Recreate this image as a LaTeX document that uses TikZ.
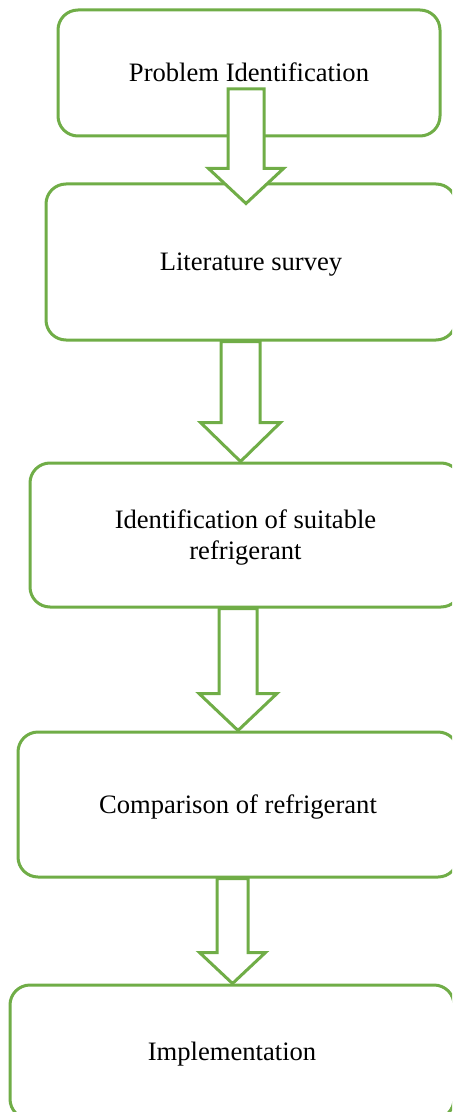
\documentclass[tikz,border=0pt]{standalone}
\usepackage{fontspec}
\setmainfont{Liberation Serif}
\usetikzlibrary{calc}

\definecolor{boxgreen}{RGB}{112,173,71}

\begin{document}
\begin{tikzpicture}
            [
            x=0.5pt, y=-0.5pt,
            stage/.style={rectangle, rounded corners=10pt, draw=boxgreen,
                line width=1.5pt, fill=white, align=center,
                text height=8.8pt, text depth=0pt,
                font=\fontsize{13.3}{15.3}\selectfont},
            blockarrow/.style n args={3}{draw=boxgreen, fill=white,
                line width=1.5pt, line join=miter,
                to path={let \p1=(\tikztostart), \p2=(\tikztotarget) in
                    (\x1-#1,\y1) -- (\x1-#1,\y2+#3) -- (\x1-#2,\y2+#3)
                    -- (\x2,\y2) -- (\x1+#2,\y2+#3) -- (\x1+#1,\y2+#3)
                    -- (\x1+#1,\y1) -- cycle}}
            ]
            \useasboundingbox (0,0) rectangle (452,1112);
            \clip (0,0) rectangle (452,1112);

            \node (b1) [stage, minimum width=191pt, minimum height=63pt]
                at (249,73) {Problem Identification};
            \node (b2) [stage, minimum width=205pt, minimum height=78pt]
                at (251,262) {Literature survey};
            \node (b3) [stage, minimum width=215.5pt, minimum height=72pt,
                text height=24.4pt]
                at (245.5,535) {Identification of suitable\\refrigerant};
            \node (b4) [stage, minimum width=220pt, minimum height=72.5pt]
                at (238,804.5) {Comparison of refrigerant};
            \node (b5) [stage, minimum width=222pt, minimum height=67pt]
                at (232,1052) {Implementation};

            % Arrow ends
            \coordinate (a1s) at ([xshift=-1.5pt, yshift=-8pt]b1.center);
            \coordinate (a1t) at ([yshift=-10.5pt]a1s |- b2.north);
            \coordinate (a2s) at ([xshift=-5.25pt]b2.south);
            \coordinate (a2t) at (a2s |- b3.north);
            \coordinate (a3s) at ([xshift=-3.75pt]b3.south);
            \coordinate (a3t) at (a3s |- b4.north);
            \coordinate (a4s) at ([xshift=-2.75pt]b4.south);
            \coordinate (a4t) at (a4s |- b5.north);

            \draw [blockarrow={9pt}{18.75pt}{17.5pt}] (a1s) to (a1t);
            \draw [blockarrow={9.75pt}{20pt}{19.5pt}] (a2s) to (a2t);
            \draw [blockarrow={9.5pt}{19.5pt}{18.5pt}] (a3s) to (a3t);
            \draw [blockarrow={7.75pt}{16.5pt}{15.5pt}] (a4s) to (a4t);
        \end{tikzpicture}
\end{document}
